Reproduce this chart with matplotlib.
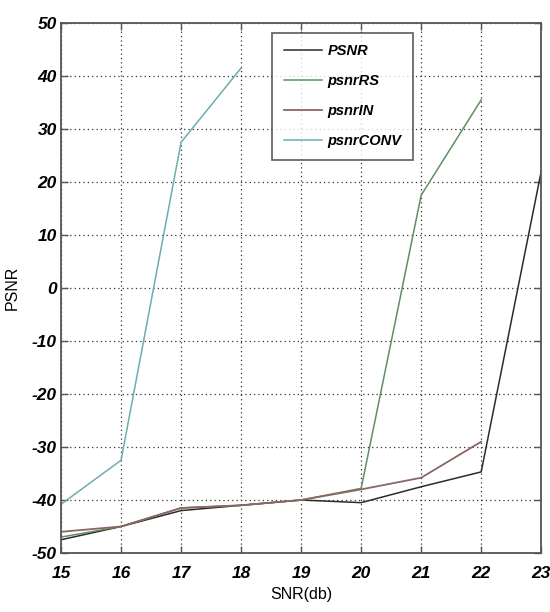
import matplotlib.pyplot as plt

# SNR values (x) and PSNR curves
snr = [15, 16, 17, 18, 19, 20, 21, 22, 23]
psnr = [-47.5, -45, -42, -41, -40, -40.5, -37.5, -34.7, 22]
psnr_rs = [-47, -45, -41.5, -41, -40, -37.8, 17.5, 35.5]
psnr_in = [-46, -45, -41.5, -41, -40, -38, -35.8, -29]
snr_conv = [15, 16, 17, 18]
psnr_conv = [-40.8, -32.5, 27.5, 41.5]

xticks = [15, 16, 17, 18, 19, 20, 21, 22, 23]
yticks = [-50, -40, -30, -20, -10, 0, 10, 20, 30, 40, 50]

tick_font = dict(family=['Liberation Sans', 'DejaVu Sans'],
                 weight='bold', style='italic', size=12.5)

fig = plt.figure(figsize=(5.5, 6.12), dpi=100)
ax = fig.add_axes([0.111, 0.0964, 0.873, 0.866])

ax.plot(snr, psnr, color='#2b2b2b', linewidth=1.1, label='PSNR')
ax.plot(snr[:8], psnr_rs, color='#5f8f62', linewidth=1.1, label='psnrRS')
ax.plot(snr[:8], psnr_in, color='#8c6565', linewidth=1.3, label='psnrIN')
ax.plot(snr_conv, psnr_conv, color='#6aaeb0', linewidth=1.1, label='psnrCONV')

ax.set_xlim(15, 23)
ax.set_ylim(-50, 50)
ax.set_xticks(xticks)
ax.set_yticks(yticks)
ax.set_xticklabels([str(t) for t in xticks], fontdict=tick_font)
ax.set_yticklabels([str(t) for t in yticks], fontdict=tick_font)
ax.tick_params(direction='in', top=True, right=True, length=5, width=1, color='#555555')
ax.tick_params(axis='x', pad=9)
ax.tick_params(axis='y', pad=3)

ax.grid(True, color='#333333', linestyle=(0, (1, 2.5)), linewidth=0.9)
for s in ax.spines.values():
    s.set_color('#555555')
    s.set_linewidth(1.3)

ax.set_xlabel('SNR(db)', fontsize=11.5, family='Liberation Sans', labelpad=5)
ax.set_ylabel('PSNR', fontsize=11.5, family='Liberation Sans', labelpad=9)

leg = ax.legend(loc='upper left', bbox_to_anchor=(0.44, 0.982), borderaxespad=0,
                frameon=True, fancybox=False,
                edgecolor='#333333', handlelength=2.6, handletextpad=0.4, labelspacing=1.1,
                borderpad=0.8,
                prop=dict(family='Liberation Sans', weight='bold', style='italic', size=10.5))
leg.get_frame().set_linewidth(1.2)

fig.savefig('out.png', dpi=100)
